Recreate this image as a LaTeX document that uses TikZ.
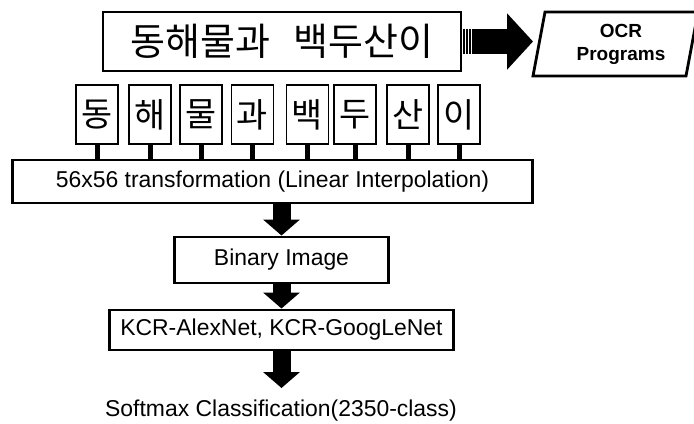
\documentclass[tikz,border=0pt]{standalone}
\usepackage{fontspec}
\setmainfont{Liberation Sans}
\newfontfamily\kr{Noto Sans CJK KR}
\usetikzlibrary{
  arrows.meta,
  calc}

\tikzset{
  charbox/.style={draw, line width=1.2pt, minimum width=1.05cm, minimum height=1.475cm,
    inner sep=0pt, font=\kr\fontsize{24}{24}\selectfont},
  stagebox/.style={draw, line width=2.1pt, inner sep=0pt, font=\fontsize{16.3}{19}\selectfont},
  blockarrow/.style={line width=0.45cm, -{Triangle[width=0.9cm,length=0.4cm]}},
  stem/.style={line width=0.125cm}
}

\begin{document}
\begin{tikzpicture}[x=0.025cm,y=-0.025cm]
\useasboundingbox (0,0) rectangle (694,423);
\node[draw, line width=1.2pt, minimum width=8.95cm, minimum height=1.475cm, inner sep=0pt,
  font=\kr\fontsize{27}{27}\selectfont] (line) at (282,41.5) {동해물과\hspace{0.6em}백두산이};
\foreach \d in {2.5,5.5,8.5}
  \draw[line width=1.5pt] ($(line.east)+(\d,-12.5)$) -- ++(0,25);
\coordinate (ocrtip) at (533,41.5);
\draw[line width=0.625cm, -{Triangle[width=1.375cm,length=0.65cm]}] ($(line.east)+(10,0)$) -- (ocrtip);
\draw[line width=2pt] (533,76) -- (686,76) -- (698,12) -- (545,12) -- cycle;
\node[font=\bfseries\fontsize{13.5}{16.3}\selectfont, align=center] (ocr) at (621,44) {OCR\\Programs};

\node[stagebox, minimum width=12.975cm, minimum height=1.075cm] (trans) at (272.5,181.5)
  {56x56 transformation (Linear Interpolation)};
\foreach \k/\x/\c in {1/97/동,2/150/해,3/201/물,4/252.5/과,5/307.5/백,6/355/두,7/408/산,8/459/이} {
  \node[charbox] (c\k) at (\x,114.5) {\c};
  \draw[stem] (c\k.south) -- (c\k.south |- trans.north);
}
\node[stagebox, minimum width=5.325cm, minimum height=1.15cm] (bin) at (281.5,260) {Binary Image};
\node[stagebox, minimum width=8.575cm, minimum height=1cm] (kcr) at (281.5,330) {KCR-AlexNet, KCR-GoogLeNet};
\node[font=\fontsize{16.3}{19}\selectfont, inner sep=1pt] (soft) at (281,411) {Softmax Classification(2350-class)};
\coordinate (softtip) at (281.5,388);

\draw[blockarrow] (bin.north |- trans.south) -- (bin.north);
\draw[blockarrow] (bin.south) -- (kcr.north);
\draw[blockarrow] (kcr.south) -- (softtip);
\end{tikzpicture}
\end{document}
